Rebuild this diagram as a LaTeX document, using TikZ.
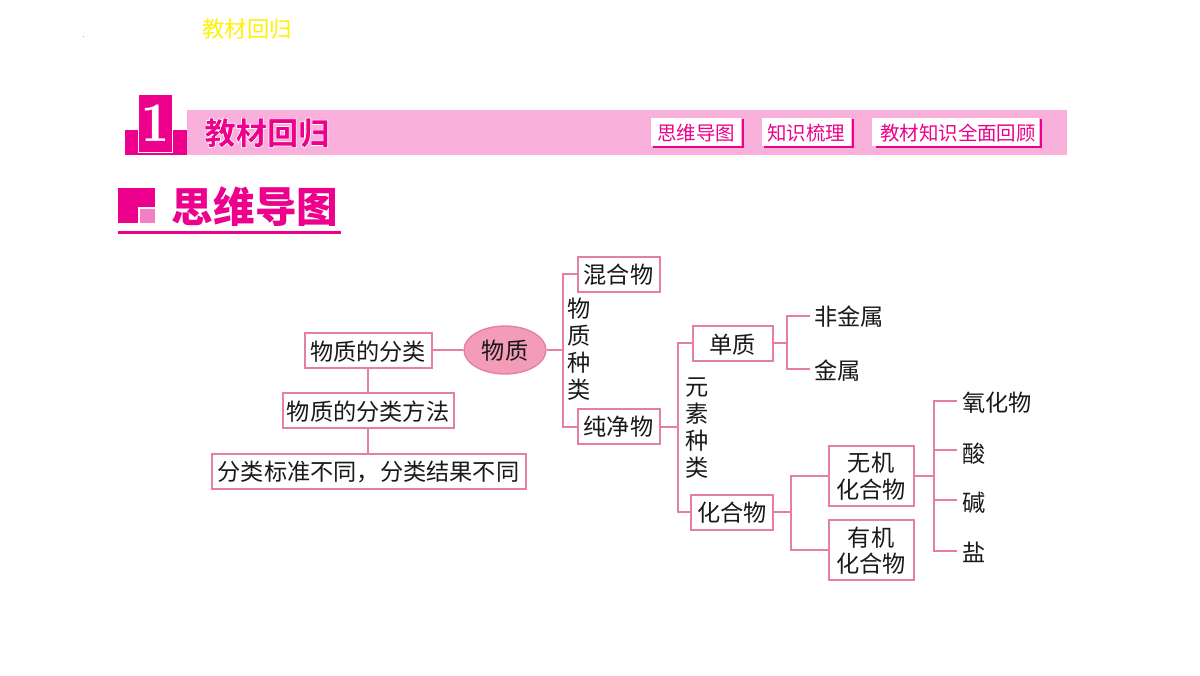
\documentclass[tikz,border=0pt]{standalone}
\usepackage{fontspec}
\setmainfont{Noto Sans CJK SC}
\newfontfamily\cjkbold{Noto Sans CJK SC Black}
\usetikzlibrary{shapes.geometric}
\definecolor{mag}{HTML}{EC008C}
\definecolor{band}{HTML}{F9B1DC}
\definecolor{lightmag}{HTML}{F47FC4}
\definecolor{conn}{HTML}{E57FA3}
\definecolor{ellfill}{HTML}{F29CB7}
\newcommand{\bodyfs}{\fontsize{17.4}{20}\selectfont}
\newcommand{\lowtxt}[2]{\raisebox{\dimexpr-6.5pt-#1pt*3/4\relax}[0pt][0pt]{#2}}
\newcommand{\firststrut}{\rule{0pt}{15.5pt}}
\newcommand{\outlinestart}[1]{\special{pdf:code 2 Tr 1 1 1 RG #1 w}}
\newcommand{\outlinestop}{\special{pdf:code 0 Tr 0 w}}
\tikzset{
  x=0.75pt,y=-0.75pt,
  boxn/.style={draw=conn,line width=1.5pt,fill=white,inner sep=0pt,font=\bodyfs,text=black!90,align=center},
  plain/.style={inner sep=0pt,font=\bodyfs,text=black!90,align=center},
  link/.style={draw=conn,line width=1.5pt},
  vert/.style={inner sep=0pt,font=\bodyfs,text=black!90,align=center,text width=24*0.75pt},
  tag/.style={inner sep=0pt,font=\fontsize{14.6}{16}\selectfont,text=mag},
  tagshadow/.style={draw=mag,line width=1.5pt}
}
\begin{document}
\begin{tikzpicture}
\useasboundingbox (0,0) rectangle (1200,675);
\fill[white] (0,0) rectangle (1200,675);
% stray dot and top text
\fill[black!35] (82.5,35.7) rectangle (83.6,36.3);
\node[inner sep=0pt,text=yellow,font=\fontsize{16.7}{18}\selectfont] (toptext) at (247,29) {教材回归};
% header band
\fill[band] (187,110) rectangle (1067,155);
\fill[mag] (125,130) rectangle (187,155);
\fill[mag,draw=white,line width=0.75pt] (138.5,94) -- (172.5,94) -- (172.5,152.5) -- (138.5,152.5) -- cycle;
\node[inner sep=0pt,text=white,font=\fontfamily{lmr}\bfseries\fontsize{42}{42}\selectfont] (num) at (155,123.5) {1};
\node[inner sep=0pt,text=mag,font=\cjkbold\fontsize{23.5}{26}\selectfont] (headtitle) at (267,133) {\outlinestart{0.5}教材回归\outlinestop};
% tags
\fill[white] (651,118) rectangle (741,146);
\fill[white] (762,118) rectangle (851,146);
\fill[white] (872,118) rectangle (1039,146);
\node[tag] (t1) at (696,133) {思维导图};
\node[tag] (t2) at (806,133) {知识梳理};
\node[tag] (t3) at (958,133) {教材知识全面回顾};
\foreach \n/\a/\b in {t1/653/742.5,t2/764/852.5,t3/876/1040.5}
  \draw[tagshadow] (\a,147) -- (\b,147) -- (\b,119);
% section heading
\fill[mag] (118,188) rectangle (155,223);
\fill[white] (138,207) rectangle (155,223);
\fill[lightmag] (140,209) rectangle (155,223);
\node[inner sep=0pt,text=mag,font=\cjkbold\fontsize{31.2}{33}\selectfont] (sect) at (255,207) {思维导图};
\fill[mag] (118,231) rectangle (341,233.5);
% nodes
\node[boxn,minimum width=127*0.75pt,minimum height=35*0.75pt] (fl) at (368,350) {\lowtxt{1.5}{物质的分类}};
\node[boxn,minimum width=171*0.75pt,minimum height=35*0.75pt] (ff) at (368,410) {\lowtxt{1.5}{物质的分类方法}};
\node[boxn,minimum width=314*0.75pt,minimum height=35*0.75pt] (bz) at (368.5,471) {\lowtxt{0.7}{分类标准不同，分类结果不同}};
\node[ellipse,draw=conn,line width=1pt,fill=ellfill,inner sep=0pt,minimum width=82*0.75pt,minimum height=48*0.75pt,font=\bodyfs,text=black!90] (wz) at (505,350) {\lowtxt{1}{物质}};
\node[boxn,minimum width=82*0.75pt,minimum height=35*0.75pt] (hh) at (618.5,274) {\lowtxt{1}{混合物}};
\node[boxn,minimum width=82*0.75pt,minimum height=35*0.75pt] (cj) at (618.5,426.5) {\lowtxt{0.5}{纯净物}};
\node[boxn,minimum width=80*0.75pt,minimum height=35*0.75pt] (dz) at (732.5,343) {\lowtxt{2}{单质}};
\node[boxn,minimum width=82*0.75pt,minimum height=35*0.75pt] (hw) at (732,512) {\lowtxt{1}{化合物}};
\node[boxn,minimum width=85*0.75pt,minimum height=60*0.75pt] (wj) at (871,475.5) {\firststrut 无机\\化合物};
\node[boxn,minimum width=85*0.75pt,minimum height=60*0.75pt] (yj) at (871,550) {\firststrut 有机\\化合物};
\node[plain] (fjs) at (849,316.5) {非金属};
\node[plain] (js) at (837.5,370.5) {金属};
\node[plain] (yh) at (997,403) {氧化物};
\node[plain] (su) at (974,453.5) {酸};
\node[plain] (je) at (974,503) {碱};
\node[plain] (ya) at (974,552.5) {盐};
\node[vert] (v1) at (579,349) {物\\[0.25pt]质\\[0.25pt]种\\[0.25pt]类};
\node[vert] (v2) at (697,428) {元\\[0.25pt]素\\[0.25pt]种\\[0.25pt]类};
% junctions
\coordinate (j1) at (563,350);
\coordinate (j2) at (678,426.5);
\coordinate (j3) at (787,343);
\coordinate (j4) at (791,512);
\coordinate (j5) at (934,475.5);
\coordinate (e1) at (810,316);
\coordinate (e2) at (810,369);
\coordinate (e3) at (957,401);
\coordinate (e4) at (957,450);
\coordinate (e5) at (957,500);
\coordinate (e6) at (957,551);
% connectors
\draw[link] (fl) -- (ff);
\draw[link] (ff.south) -- (ff.south |- bz.north);
\draw[link] (fl.east) -- (wz.west);
\draw[link] (wz.east) -- (j1);
\draw[link] (hh.west) -| (j1) |- (cj.west);
\draw[link] (cj.east) -- (j2);
\draw[link] (dz.west) -| (j2) |- (hw.west);
\draw[link] (dz.east) -- (j3);
\draw[link] (e1) -| (j3) |- (e2);
\draw[link] (hw.east) -- (j4);
\draw[link] (wj.west) -| (j4) |- (yj.west);
\draw[link] (wj.east) -- (j5);
\draw[link] (e3) -| (j5) |- (e6);
\draw[link] (j5 |- e4) -- (e4);
\draw[link] (j5 |- e5) -- (e5);
\end{tikzpicture}
\end{document}
